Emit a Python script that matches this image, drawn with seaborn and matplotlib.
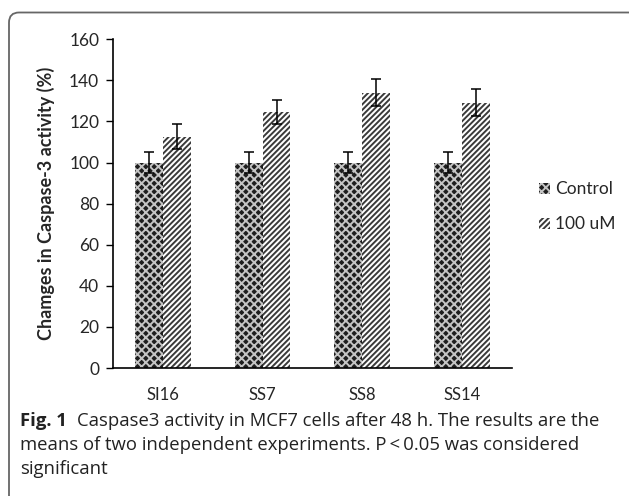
import matplotlib
matplotlib.use("Agg")
import matplotlib.pyplot as plt
from matplotlib.patches import FancyBboxPatch, Patch
import pandas as pd
import seaborn as sns

# values
compounds = ["SI16", "SS7", "SS8", "SS14"]
groups = ["Control", "100 uM"]
control_mean = [100, 100, 100, 100]
control_err = [5, 5, 5, 5]
treated_mean = [112.5, 124.5, 134, 129]
treated_err = [6, 6, 6.7, 6.6]

sns.set_theme(style="white")
plt.rcParams["font.family"] = ["Lato", "DejaVu Sans"]
plt.rcParams["hatch.linewidth"] = 1.4

df = pd.DataFrame({
    "compound": compounds * 2,
    "group": [groups[0]] * 4 + [groups[1]] * 4,
    "value": control_mean + treated_mean,
    "err": control_err + treated_err,
})

fig = plt.figure(figsize=(6.29, 4.96), dpi=100)
ax = fig.add_axes([0.1797, 0.258, 0.634, 0.663])

sns.barplot(data=df, x="compound", y="value", hue="group", order=compounds,
            hue_order=groups, width=0.56, gap=0, errorbar=None, ax=ax,
            legend=False)

styles = {
    "Control": dict(face="#1e1e1e", hatch_col="#c4c4c4", hatch="xxxx"),
    "100 uM": dict(face="white", hatch_col="#3a3a3a", hatch="//////"),
}

bars = ax.patches
for i, bar in enumerate(bars):
    g = groups[i // len(compounds)]
    st = styles[g]
    bar.set_facecolor(st["face"])
    bar.set_edgecolor(st["hatch_col"])
    bar.set_linewidth(0)
    bar.set_hatch(st["hatch"])
    cx = bar.get_x() + bar.get_width() / 2
    ax.errorbar(cx, df["value"].iloc[i], yerr=df["err"].iloc[i], color="black",
                capsize=3.5, elinewidth=1.1, capthick=1.1, zorder=5)

ax.set_ylim(0, 160)
ax.set_yticks(range(0, 161, 20))
ax.set_xlim(-0.5, 3.5)
ax.tick_params(axis="y", direction="out", length=5, width=1, color="black",
               labelsize=12.5, left=True, pad=5)
ax.tick_params(axis="x", length=0, labelsize=12, pad=14)
for s in ["top", "right"]:
    ax.spines[s].set_visible(False)
for s in ["left", "bottom"]:
    ax.spines[s].set_color("black")
    ax.spines[s].set_linewidth(1.2)
ax.set_xlabel("")
ax.set_ylabel("Chamges in Caspase-3 activity (%)", fontsize=13,
              fontweight="bold", labelpad=10)

handles = [Patch(facecolor=styles[g]["face"], edgecolor=styles[g]["hatch_col"],
                 hatch=styles[g]["hatch"], linewidth=0) for g in groups]
ax.legend(handles, groups, loc="center left", bbox_to_anchor=(1.03, 0.49),
          frameon=False, fontsize=12.5, handlelength=0.6, handleheight=0.6,
          handletextpad=0.3, labelspacing=1.1)

# rounded frame around figure
frame = FancyBboxPatch((9 / 629, -0.1), 1.2, 1 - 12.5 / 496 + 0.1,
                       boxstyle="round,pad=0,rounding_size=0.016",
                       transform=fig.transFigure, fill=False,
                       edgecolor="#666666", linewidth=1.3, mutation_aspect=629 / 496)
fig.patches.append(frame)

# caption
cap_font = ["Open Sans", "DejaVu Sans"]
t = fig.text(20 / 629, 1 - 421 / 496, "Fig. 1", fontsize=13.3, fontweight="bold",
             family=cap_font, va="center", color="#222222")
fig.canvas.draw()
bb = t.get_window_extent()
fig.text((bb.x1 + 10) / 629, 1 - 421 / 496,
         "Caspase3 activity in MCF7 cells after 48 h. The results are the",
         fontsize=13.3, family=cap_font, va="center", color="#222222")
fig.text(20 / 629, 1 - 445 / 496,
         "means of two independent experiments. P\u2009<\u20090.05 was considered",
         fontsize=13.3, family=cap_font, va="center", color="#222222")
fig.text(20 / 629, 1 - 469 / 496, "significant",
         fontsize=13.3, family=cap_font, va="center", color="#222222")

fig.savefig("out.png", dpi=100)
